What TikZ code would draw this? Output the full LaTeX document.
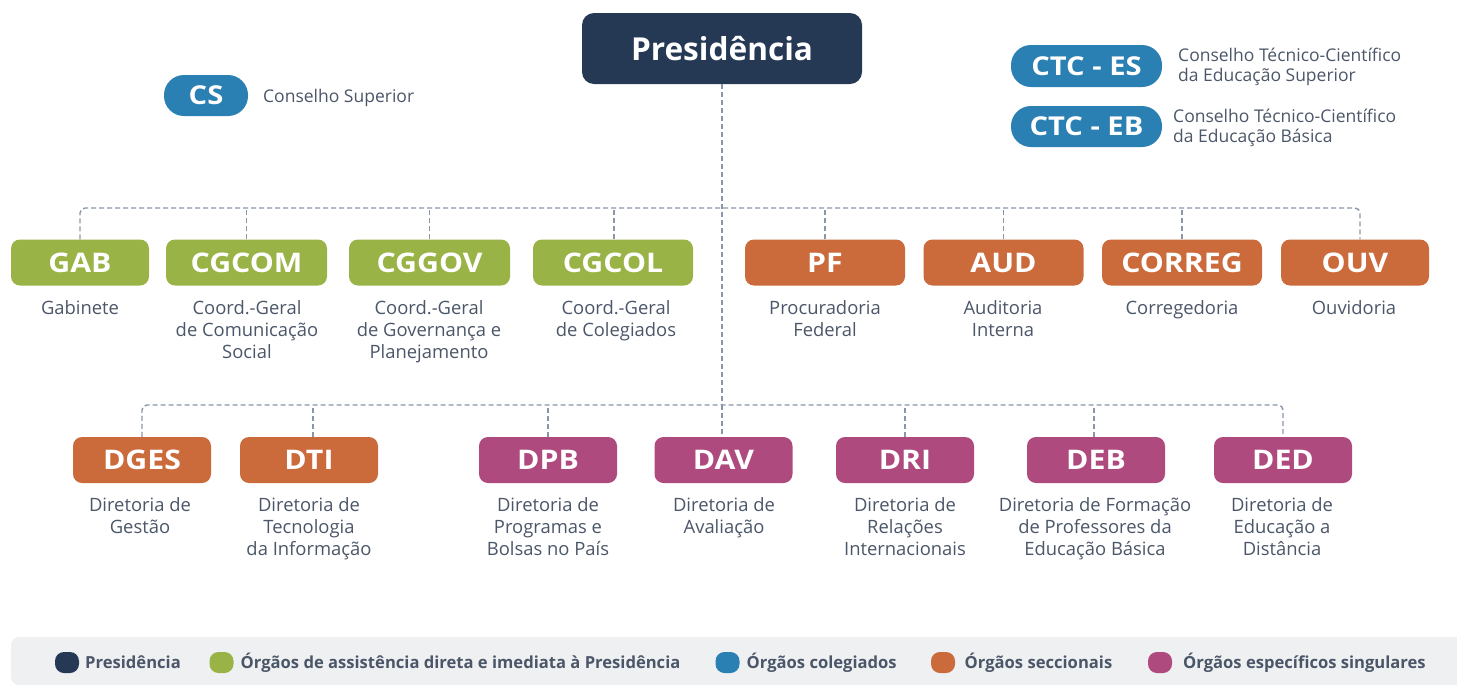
\documentclass[tikz,border=0pt]{standalone}
\usepackage{fontspec}
\setmainfont{Open Sans}
\newfontfamily\widefont{Open Sans}[FakeStretch=1.12]
\definecolor{navy}{HTML}{253955}
\definecolor{cgreen}{HTML}{9AB346}
\definecolor{cblue}{HTML}{2A7FB3}
\definecolor{corange}{HTML}{CB6A3B}
\definecolor{cmag}{HTML}{AE4A7E}
\definecolor{dashc}{HTML}{8A96A8}
\definecolor{legbg}{HTML}{EEF0F2}
\definecolor{lblc}{HTML}{4B5668}
\begin{document}
\begin{tikzpicture}[x=1pt,y=-1pt,
  box/.style={rounded corners=9pt, minimum height=46pt, inner sep=0pt, text=white,
    font=\widefont\bfseries\fontsize{27}{27}\selectfont},
  pill/.style={rounded corners=20pt, fill=cblue, minimum height=41pt, inner sep=0pt, text=white,
    font=\widefont\bfseries\fontsize{26}{26}\selectfont},
  lbl/.style={text=lblc, align=center, anchor=base, inner sep=0pt,
    font=\fontsize{18.4}{22}\selectfont},
  slbl/.style={text=lblc, align=left, anchor=base west, inner sep=0pt,
    font=\fontsize{17.5}{20}\selectfont},
  conn/.style={draw=dashc, line width=1.4pt, dash pattern=on 5pt off 3pt},
  legdot/.style={minimum width=24pt, minimum height=21pt, inner sep=0pt, rounded corners=9pt},
  legtxt/.style={text=lblc, anchor=west, inner sep=0pt, font=\bfseries\fontsize{16.6}{18}\selectfont}
]
\useasboundingbox (0,0) rectangle (1457,686);
% legend background
\fill[legbg, rounded corners=8pt] (11,637) rectangle (1490,685);

% top
\node[box, fill=navy, minimum width=280pt, minimum height=71pt, rounded corners=12pt,
  font=\bfseries\fontsize{31.6}{31.6}\selectfont] (pres) at (722,48.5) {Presidência};
\node[pill, minimum width=84pt] (cs) at (206,95.5) {CS};
\node[slbl] (csl) at (263,102) {Conselho Superior};
\node[pill, minimum width=151pt, minimum height=42pt] (ctces) at (1086.5,66) {CTC - ES};
\node[slbl] (ctcesl) at (1178,81) {Conselho Técnico-Científico\\da Educação Superior};
\node[pill, minimum width=151pt] (ctceb) at (1086.5,126.5) {CTC - EB};
\node[slbl] (ctcebl) at (1173,142) {Conselho Técnico-Científico\\da Educação Básica};

% row 1
\node[box, fill=cgreen, minimum width=138pt] (gab) at (80,262.5) {GAB};
\node[box, fill=cgreen, minimum width=161pt] (cgcom) at (246.5,262.5) {CGCOM};
\node[box, fill=cgreen, minimum width=161pt] (cggov) at (429.5,262.5) {CGGOV};
\node[box, fill=cgreen, minimum width=160pt] (cgcol) at (613,262.5) {CGCOL};
\node[box, fill=corange, minimum width=160pt] (pf) at (825,262.5) {PF};
\node[box, fill=corange, minimum width=160pt] (aud) at (1003.5,262.5) {AUD};
\node[box, fill=corange, minimum width=160pt] (correg) at (1182,262.5) {CORREG};
\node[box, fill=corange, minimum width=148pt] (ouv) at (1355,262.5) {OUV};

\node[lbl] (gabl) at (80,314) {Gabinete};
\node[lbl] (cgcoml) at (247,358) {Coord.-Geral\\de Comunicação\\Social};
\node[lbl] (cggovl) at (429,358) {Coord.-Geral\\de Governança e\\Planejamento};
\node[lbl] (cgcoll) at (616,336) {Coord.-Geral\\de Colegiados};
\node[lbl] (pfl) at (825,336) {Procuradoria\\Federal};
\node[lbl] (audl) at (1003,336) {Auditoria\\Interna};
\node[lbl] (corregl) at (1182,314) {Corregedoria};
\node[lbl] (ouvl) at (1354,314) {Ouvidoria};

% row 2
\node[box, fill=corange, minimum width=138pt] (dges) at (142,460) {DGES};
\node[box, fill=corange, minimum width=138pt] (dti) at (309,460) {DTI};
\node[box, fill=cmag, minimum width=138pt] (dpb) at (548,460) {DPB};
\node[box, fill=cmag, minimum width=138pt] (dav) at (723.5,460) {DAV};
\node[box, fill=cmag, minimum width=138pt] (dri) at (905,460) {DRI};
\node[box, fill=cmag, minimum width=138pt] (deb) at (1096,460) {DEB};
\node[box, fill=cmag, minimum width=138pt] (ded) at (1283,460) {DED};

\node[lbl] (dgesl) at (140,533) {Diretoria de\\Gestão};
\node[lbl] (dtil) at (309,555) {Diretoria de\\Tecnologia\\da Informação};
\node[lbl] (dpbl) at (548,555) {Diretoria de\\Programas e\\Bolsas no País};
\node[lbl] (davl) at (724,533) {Diretoria de\\Avaliação};
\node[lbl] (dril) at (905,555) {Diretoria de\\Relações\\Internacionais};
\node[lbl] (debl) at (1095,555) {Diretoria de Formação\\de Professores da\\Educação Básica};
\node[lbl] (dedl) at (1282,555) {Diretoria de\\Educação a\\Distância};

% connectors
\coordinate (b1) at (722,208);
\coordinate (b2) at (722,405);
\draw[conn] (pres.south) -- (b2);
\draw[conn] (b2) -- (pres.south |- dav.north);
\draw[conn, rounded corners=5pt] (gab.north) |- (b1) -| ([xshift=5pt]ouv.north);
\foreach \n in {cgcom,cggov,pf,aud,correg}{\draw[conn] (\n.north) -- (\n.north |- b1);}
\draw[conn] ([xshift=1pt]cgcol.north) -- ([xshift=1pt]cgcol.north |- b1);
\draw[conn, rounded corners=5pt] (dges.north) |- (b2) -| (ded.north);
\draw[conn] ([xshift=4pt]dti.north) -- ([xshift=4pt]dti.north |- b2);
\foreach \n in {dpb,dri}{\draw[conn] (\n.north) -- (\n.north |- b2);}
\draw[conn] ([xshift=-2pt]deb.north) -- ([xshift=-2pt]deb.north |- b2);

% legend
\node[legdot, fill=navy] (d1) at (67,662.5) {};
\node[legtxt] (t1) at (85,662.5) {Presidência};
\node[legdot, fill=cgreen] (d2) at (221.5,662.5) {};
\node[legtxt] (t2) at (240.5,662.5) {Órgãos de assistência direta e imediata à Presidência};
\node[legdot, fill=cblue] (d3) at (727.5,662.5) {};
\node[legtxt] (t3) at (746.5,662.5) {Órgãos colegiados};
\node[legdot, fill=corange] (d4) at (943,662.5) {};
\node[legtxt] (t4) at (964.5,662.5) {Órgãos seccionais};
\node[legdot, fill=cmag] (d5) at (1160,662.5) {};
\node[legtxt] (t5) at (1183,662.5) {Órgãos específicos singulares};
\end{tikzpicture}
\end{document}
